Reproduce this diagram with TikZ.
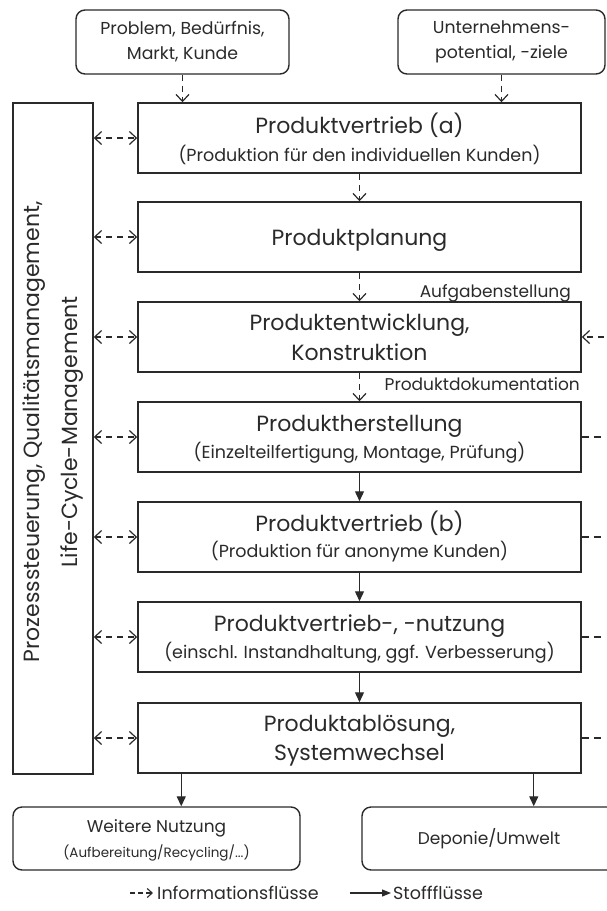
\documentclass[tikz,border=0pt]{standalone}
\usepackage{fontspec}
\setmainfont{Poppins}
\usetikzlibrary{arrows.meta}
\definecolor{ink}{HTML}{2A2A2A}
\begin{document}
\begin{tikzpicture}[x=1pt,y=-1pt,
  box/.style={draw=ink, line width=1.5pt, minimum width=443pt, minimum height=70pt, inner sep=0pt},
  rbox/.style={draw=ink, line width=1.4pt, rounded corners=9pt, inner sep=0pt, align=center, text=ink},
  bigt/.style={text=ink, font=\fontsize{22}{26}\selectfont, inner sep=0pt, text height=16pt, text depth=0pt},
  smallt/.style={text=ink, font=\fontsize{17.5}{21}\selectfont, inner sep=0pt, text height=12pt, text depth=0pt},
  labt/.style={text=ink, font=\fontsize{17}{20}\selectfont, inner sep=0pt, text height=12pt, text depth=0pt},
  vtip/.tip={Straight Barb[length=7pt,width=13pt]},
  info/.style={draw=ink, line width=1.2pt, dash pattern=on 6pt off 5pt, -vtip},
  infob/.style={draw=ink, line width=1.2pt, dash pattern=on 6pt off 5pt, vtip-vtip},
  infoline/.style={draw=ink, line width=1.2pt, dash pattern=on 7pt off 5pt},
  mat/.style={draw=ink, line width=1.3pt, -{Triangle[length=10pt,width=9pt]}},
]
\useasboundingbox (0,0) rectangle (607,911);
\clip (0,0) rectangle (607,911);

% top boxes
\node[rbox, minimum width=213pt, minimum height=64pt, font=\fontsize{17.3}{25}\selectfont] (tl) at (182.5,42) {Problem, Bedürfnis,\\Markt, Kunde};
\node[rbox, minimum width=207pt, minimum height=64pt, font=\fontsize{17.3}{25}\selectfont] (tr) at (501.5,42) {Unternehmens-\\potential, -ziele};

% main boxes
\node[box] (b1) at (359.5,138) {};
\node[box] (b2) at (359.5,237) {};
\node[box] (b3) at (359.5,337) {};
\node[box] (b4) at (359.5,437) {};
\node[box] (b5) at (359.5,537) {};
\node[box] (b6) at (359.5,637) {};
\node[box] (b7) at (359.5,738) {};

\node[bigt] (b1a) at (359.5,125) {Produktvertrieb (a)};
\node[smallt] (b1b) at (359.5,155) {(Produktion für den individuellen Kunden)};
\node[bigt] (b2a) at (359.5,237) {Produktplanung};
\node[bigt] (b3a) at (359.5,322) {Produktentwicklung,};
\node[bigt] (b3b) at (359.5,352) {Konstruktion};
\node[bigt] (b4a) at (359.5,423) {Produktherstellung};
\node[smallt] (b4b) at (359.5,452) {(Einzelteilfertigung, Montage, Prüfung)};
\node[bigt] (b5a) at (359.5,523) {Produktvertrieb (b)};
\node[smallt] (b5b) at (359.5,551) {(Produktion für anonyme Kunden)};
\node[bigt] (b6a) at (359.5,623) {Produktvertrieb-, -nutzung};
\node[smallt] (b6b) at (359.5,652) {(einschl. Instandhaltung, ggf. Verbesserung)};
\node[bigt] (b7a) at (359.5,723) {Produktablösung,};
\node[bigt] (b7b) at (359.5,752) {Systemwechsel};

% left box
\node[box, minimum width=80pt, minimum height=671pt] (lb) at (53,438.5) {};
\node[text=ink, rotate=90, align=center, inner sep=0pt, font=\fontsize{22}{38}\selectfont] (lbt) at (53,432) {Prozesssteuerung, Qualitätsmanagement,\\Life-Cycle-Management};

% bottom boxes
\node[rbox, minimum width=287pt, minimum height=63pt] (bl) at (156.5,838.5) {};
\node[text=ink, inner sep=0pt, font=\fontsize{17}{20}\selectfont, text height=12pt, text depth=0pt] (bla) at (156.5,826) {Weitere Nutzung};
\node[text=ink, inner sep=0pt, font=\fontsize{13.5}{16}\selectfont, text height=9.5pt, text depth=0pt] (blb) at (156.5,853) {(Aufbereitung/Recycling/...)};
\node[rbox, minimum width=254pt, minimum height=63pt, font=\fontsize{17}{20}\selectfont] (br) at (489,838.5) {Deponie/Umwelt};

% top arrows
\draw[info] (tl.south) -- (tl.south |- b1.north);
\draw[info] (tr.south) -- (tr.south |- b1.north);

% main chain
\draw[info] (b1) -- (b2);
\draw[info] (b2) -- (b3);
\draw[info] (b3) -- (b4);
\draw[mat] (b4) -- (b5);
\draw[mat] (b5) -- (b6);
\draw[mat] (b6) -- (b7);

% labels
\node[labt, anchor=east] (lab1) at (571,291) {Aufgabenstellung};
\node[labt, anchor=east] (lab2) at (580,384) {Produktdokumentation};

% left connections
\foreach \b in {b1,b2,b3,b4,b5,b6,b7}{
  \draw[infob] (lb.east |- \b) -- (\b.west);
}

% right connections
\coordinate (r3) at (604,337);
\draw[info] (r3) -- (b3.east);
\coordinate (r4) at (602,437);
\coordinate (r5) at (602,537);
\coordinate (r6) at (602,637);
\coordinate (r7) at (602,738);
\draw[infoline] (b4.east) -- (r4);
\draw[infoline] (b5.east) -- (r5);
\draw[infoline] (b6.east) -- (r6);
\draw[infoline] (b7.east) -- (r7);

% bottom arrows
\draw[mat] ([xshift=44pt]b7.south west) -- ([xshift=44pt]b7.south west |- bl.north);
\draw[mat] ([xshift=-48pt]b7.south east) -- ([xshift=-48pt]b7.south east |- br.north);

% legend
\coordinate (l1) at (130,893);
\node[text=ink, inner sep=0pt, anchor=west, font=\fontsize{17.5}{20}\selectfont, text height=12pt, text depth=0pt] (leg1) at (157,893) {Informationsflüsse};
\draw[draw=ink, line width=1.1pt, dash pattern=on 5pt off 3pt, -{Straight Barb[length=5pt,width=9pt]}] (l1) -- ([xshift=-4pt]leg1.west);
\coordinate (l2) at (350,893);
\node[text=ink, inner sep=0pt, anchor=west, font=\fontsize{17.5}{20}\selectfont, text height=12pt, text depth=0pt] (leg2) at (393,893) {Stoffflüsse};
\draw[draw=ink, line width=1.1pt, -{Triangle[length=9pt,width=7pt]}] (l2) -- ([xshift=-2pt]leg2.west);
\end{tikzpicture}
\end{document}
